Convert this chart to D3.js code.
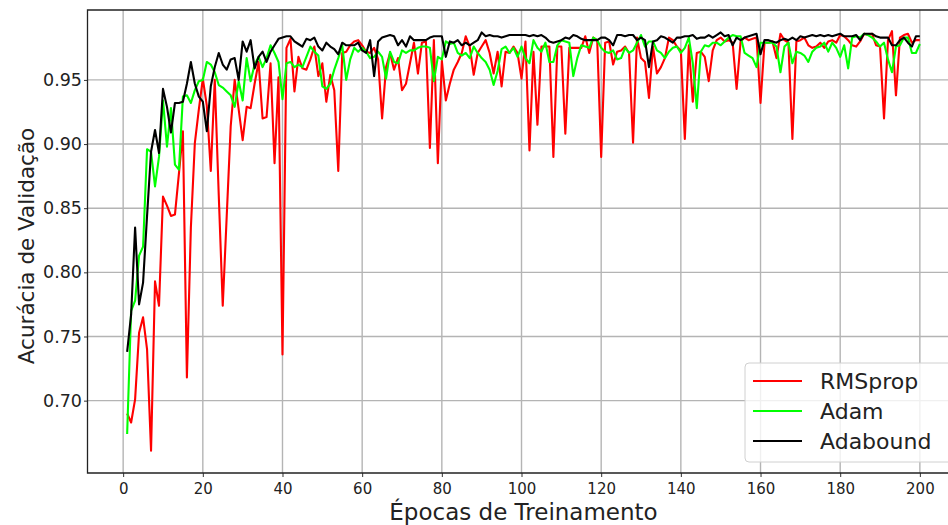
<!DOCTYPE html>
<html>
<head>
<meta charset="utf-8">
<script src="https://cdn.jsdelivr.net/npm/d3@7"></script>
<style>
  body { margin: 0; background: #fff; }
  svg { font-family: "DejaVu Sans", sans-serif; }
</style>
</head>
<body>
<svg id="chart"></svg>
<script>
const width = 948, height = 525

// validation accuracy per epoch (1..200)
const rmsprop = [
  0.690, 0.683, 0.701, 0.753, 0.765, 0.740, 0.661, 0.793, 0.774, 0.859,
  0.852, 0.844, 0.845, 0.877, 0.910, 0.718, 0.835, 0.901, 0.927, 0.951,
  0.930, 0.879, 0.950, 0.860, 0.774, 0.844, 0.914, 0.950, 0.927, 0.903,
  0.929, 0.928, 0.947, 0.964, 0.920, 0.921, 0.963, 0.885, 0.952, 0.736,
  0.975, 0.982, 0.941, 0.968, 0.959, 0.958, 0.966, 0.976, 0.953, 0.963,
  0.933, 0.954, 0.942, 0.879, 0.971, 0.972, 0.977, 0.980, 0.981, 0.977,
  0.972, 0.971, 0.975, 0.966, 0.920, 0.960, 0.971, 0.958, 0.967, 0.942,
  0.947, 0.963, 0.979, 0.955, 0.979, 0.980, 0.897, 0.981, 0.885, 0.965,
  0.934, 0.947, 0.958, 0.964, 0.971, 0.984, 0.976, 0.954, 0.971, 0.976,
  0.981, 0.971, 0.955, 0.972, 0.945, 0.972, 0.971, 0.976, 0.971, 0.951,
  0.980, 0.895, 0.972, 0.915, 0.976, 0.976, 0.976, 0.890, 0.976, 0.976,
  0.908, 0.975, 0.975, 0.975, 0.975, 0.984, 0.971, 0.983, 0.981, 0.890,
  0.979, 0.980, 0.962, 0.972, 0.973, 0.976, 0.971, 0.901, 0.983, 0.967,
  0.964, 0.936, 0.976, 0.955, 0.960, 0.967, 0.983, 0.981, 0.976, 0.973,
  0.904, 0.977, 0.933, 0.971, 0.972, 0.968, 0.949, 0.973, 0.981, 0.983,
  0.980, 0.981, 0.979, 0.943, 0.980, 0.983, 0.981, 0.982, 0.983, 0.932,
  0.979, 0.979, 0.980, 0.967, 0.986, 0.981, 0.979, 0.904, 0.980, 0.981,
  0.983, 0.977, 0.975, 0.976, 0.979, 0.975, 0.980, 0.981, 0.979, 0.985,
  0.984, 0.981, 0.977, 0.976, 0.980, 0.986, 0.985, 0.986, 0.977, 0.976,
  0.920, 0.981, 0.988, 0.938, 0.983, 0.985, 0.986, 0.979, 0.981, 0.981
]

const adam = [
  0.674, 0.770, 0.778, 0.813, 0.820, 0.896, 0.894, 0.867, 0.890, 0.934,
  0.898, 0.928, 0.884, 0.880, 0.937, 0.938, 0.932, 0.942, 0.949, 0.950,
  0.964, 0.962, 0.956, 0.946, 0.944, 0.941, 0.938, 0.929, 0.949, 0.934,
  0.967, 0.949, 0.962, 0.968, 0.960, 0.967, 0.977, 0.971, 0.964, 0.935,
  0.963, 0.964, 0.960, 0.962, 0.960, 0.968, 0.976, 0.972, 0.969, 0.945,
  0.943, 0.947, 0.958, 0.967, 0.977, 0.950, 0.966, 0.975, 0.972, 0.975,
  0.972, 0.967, 0.968, 0.972, 0.968, 0.951, 0.972, 0.964, 0.963, 0.973,
  0.971, 0.973, 0.973, 0.975, 0.976, 0.976, 0.975, 0.949, 0.968, 0.966,
  0.980, 0.978, 0.979, 0.971, 0.969, 0.971, 0.967, 0.976, 0.971, 0.967,
  0.964, 0.958, 0.946, 0.957, 0.974, 0.976, 0.971, 0.975, 0.968, 0.976,
  0.967, 0.963, 0.981, 0.975, 0.972, 0.979, 0.964, 0.964, 0.977, 0.981,
  0.980, 0.979, 0.953, 0.967, 0.977, 0.976, 0.975, 0.983, 0.981, 0.975,
  0.972, 0.971, 0.973, 0.966, 0.967, 0.975, 0.971, 0.973, 0.979, 0.985,
  0.976, 0.980, 0.980, 0.973, 0.971, 0.967, 0.972, 0.975, 0.976, 0.971,
  0.975, 0.983, 0.963, 0.928, 0.972, 0.977, 0.976, 0.979, 0.979, 0.977,
  0.980, 0.983, 0.985, 0.984, 0.984, 0.971, 0.969, 0.967, 0.960, 0.979,
  0.979, 0.979, 0.979, 0.976, 0.956, 0.976, 0.979, 0.963, 0.972, 0.971,
  0.969, 0.964, 0.972, 0.975, 0.976, 0.979, 0.972, 0.979, 0.975, 0.968,
  0.977, 0.959, 0.983, 0.984, 0.983, 0.986, 0.985, 0.983, 0.980, 0.976,
  0.979, 0.966, 0.956, 0.976, 0.977, 0.983, 0.983, 0.971, 0.971, 0.978
]

const adabound = [
  0.738, 0.767, 0.835, 0.775, 0.792, 0.844, 0.894, 0.911, 0.893, 0.943,
  0.929, 0.909, 0.932, 0.932, 0.933, 0.947, 0.964, 0.947, 0.937, 0.933,
  0.910, 0.945, 0.960, 0.971, 0.962, 0.958, 0.966, 0.967, 0.950, 0.980,
  0.972, 0.981, 0.959, 0.968, 0.972, 0.964, 0.972, 0.977, 0.982, 0.983,
  0.984, 0.984, 0.980, 0.978, 0.976, 0.982, 0.981, 0.983, 0.976, 0.973,
  0.979, 0.976, 0.974, 0.970, 0.979, 0.977, 0.977, 0.977, 0.979, 0.973,
  0.971, 0.981, 0.953, 0.980, 0.983, 0.984, 0.985, 0.984, 0.977, 0.981,
  0.976, 0.984, 0.981, 0.981, 0.981, 0.981, 0.983, 0.984, 0.984, 0.984,
  0.968, 0.980, 0.979, 0.981, 0.977, 0.979, 0.977, 0.979, 0.981, 0.987,
  0.984, 0.985, 0.984, 0.984, 0.983, 0.984, 0.985, 0.985, 0.985, 0.985,
  0.985, 0.984, 0.985, 0.984, 0.985, 0.983, 0.980, 0.979, 0.980, 0.981,
  0.983, 0.982, 0.985, 0.984, 0.982, 0.981, 0.981, 0.981, 0.981, 0.983,
  0.983, 0.981, 0.977, 0.985, 0.985, 0.984, 0.985, 0.985, 0.981, 0.983,
  0.981, 0.960, 0.980, 0.981, 0.984, 0.983, 0.981, 0.979, 0.983, 0.983,
  0.984, 0.984, 0.985, 0.982, 0.983, 0.983, 0.985, 0.983, 0.985, 0.987,
  0.984, 0.985, 0.977, 0.983, 0.981, 0.983, 0.984, 0.985, 0.986, 0.970,
  0.981, 0.981, 0.980, 0.979, 0.981, 0.982, 0.981, 0.983, 0.981, 0.984,
  0.983, 0.984, 0.985, 0.984, 0.985, 0.984, 0.985, 0.984, 0.985, 0.986,
  0.984, 0.984, 0.984, 0.985, 0.981, 0.986, 0.986, 0.986, 0.984, 0.983,
  0.983, 0.983, 0.977, 0.977, 0.981, 0.983, 0.979, 0.976, 0.984, 0.984
]

const epochs = d3.range(1, 201)
const xTicks = d3.range(0, 201, 20)
const yTicks = [0.70, 0.75, 0.80, 0.85, 0.90, 0.95]

const series = [
  { name: "RMSprop", values: rmsprop, color: "#ff0000" },
  { name: "Adam", values: adam, color: "#00ff00" },
  { name: "Adabound", values: adabound, color: "#000000" }
]

const plotLeft = 87.5, plotRight = 959.5, plotTop = 10, plotBottom = 473

const x = d3.scaleLinear().domain([-8.95, 209.95]).range([plotLeft, plotRight])
const y = d3.scaleLinear().domain([0.6436, 1.0045]).range([plotBottom, plotTop])

const svg = d3.select("#chart")
  .attr("width", width)
  .attr("height", height)

// grid
svg.append("g")
  .selectAll("line")
  .data(xTicks)
  .join("line")
  .attr("x1", d => x(d)).attr("x2", d => x(d))
  .attr("y1", plotTop).attr("y2", plotBottom)
  .attr("stroke", "#b4b4b4").attr("stroke-width", 1.4)

svg.append("g")
  .selectAll("line")
  .data(yTicks)
  .join("line")
  .attr("x1", plotLeft).attr("x2", plotRight)
  .attr("y1", d => y(d)).attr("y2", d => y(d))
  .attr("stroke", "#b4b4b4").attr("stroke-width", 1.4)

// lines
let line = vals => d3.line()
  .x((d, i) => x(epochs[i]))
  .y(d => y(d))(vals)

svg.append("g")
  .selectAll("path")
  .data(series)
  .join("path")
  .attr("d", d => line(d.values))
  .attr("fill", "none")
  .attr("stroke", d => d.color)
  .attr("stroke-width", 2.1)
  .attr("stroke-linejoin", "round")

// axes
let xAxis = d3.axisBottom(x).tickValues(xTicks).tickSize(4).tickPadding(6)
let yAxis = d3.axisLeft(y).tickValues(yTicks).tickFormat(d3.format(".2f")).tickSize(3.5).tickPadding(2)

let gx = svg.append("g").attr("transform", `translate(0,${plotBottom})`).call(xAxis)
let gy = svg.append("g").attr("transform", `translate(${plotLeft},0)`).call(yAxis)

for (let g of [gx, gy]) {
  g.select(".domain").remove()
  g.selectAll("line").attr("stroke", "#333")
  g.selectAll("text")
    .attr("font-family", "DejaVu Sans, sans-serif")
    .attr("fill", "#222")
}
gx.selectAll("text").attr("font-size", 15)
gy.selectAll("text").attr("font-size", 17.5)

// spines
svg.append("path")
  .attr("d", `M${plotRight},${plotTop}H${plotLeft}V${plotBottom}H${plotRight}`)
  .attr("fill", "none")
  .attr("stroke", "#222")
  .attr("stroke-width", 1.3)

// axis labels
svg.append("text")
  .attr("x", (plotLeft + plotRight) / 2)
  .attr("y", 520)
  .attr("text-anchor", "middle")
  .attr("font-size", 23)
  .attr("fill", "#222")
  .text("Épocas de Treinamento")

svg.append("text")
  .attr("transform", "translate(34,246) rotate(-90)")
  .attr("text-anchor", "middle")
  .attr("font-size", 21.5)
  .attr("fill", "#222")
  .text("Acurácia de Validação")

// legend
let legend = svg.append("g")
legend.append("rect")
  .attr("x", 745).attr("y", 363)
  .attr("width", 210).attr("height", 99)
  .attr("rx", 4)
  .attr("fill", "#fff").attr("fill-opacity", 0.8)
  .attr("stroke", "#d0d0d0")

let items = legend.selectAll("g.item")
  .data(series)
  .join("g")
  .attr("transform", (d, i) => `translate(0,${381 + i * 30})`)

items.append("line")
  .attr("x1", 753).attr("x2", 802)
  .attr("stroke", d => d.color)
  .attr("stroke-width", 2)

items.append("text")
  .attr("x", 820)
  .attr("dy", "0.35em")
  .attr("font-size", 22)
  .attr("fill", "#222")
  .text(d => d.name)
</script>
</body>
</html>
